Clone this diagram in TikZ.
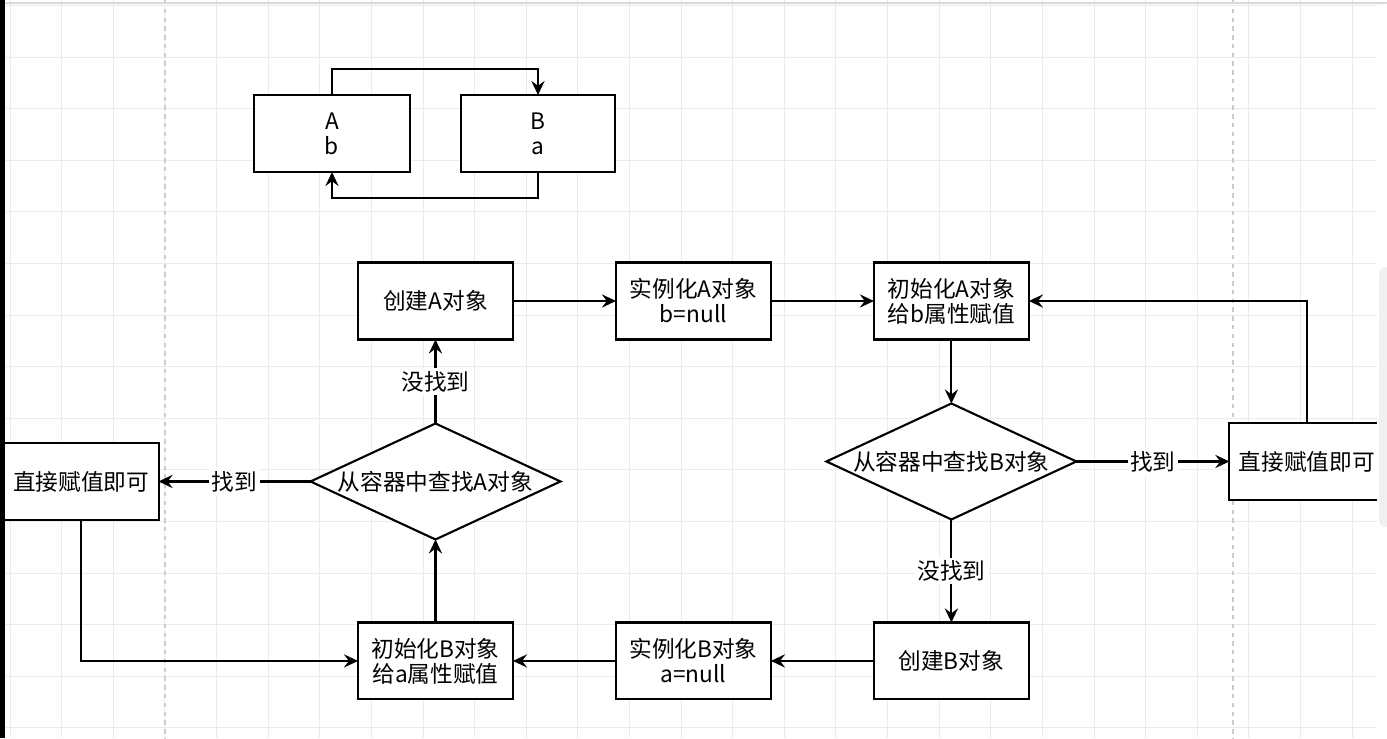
\documentclass[tikz,border=0pt]{standalone}
\usepackage{fontspec}
\newfontfamily\cjk{Noto Sans CJK SC}
\usepackage{tikz}
\usetikzlibrary{arrows.meta,positioning,shapes.geometric}

\begin{document}
\begin{tikzpicture}[
  x=0.02cm, y=-0.02cm, >={Stealth[length=8pt,width=7.5pt,inset=2.8pt]},
  line width=1.2pt,
  box/.style={draw, rectangle, align=center, minimum width=3.1cm, minimum height=1.54cm,
              inner sep=2pt, outer sep=0pt, fill=white, font={\cjk\fontsize{12.9pt}{14.2pt}\selectfont}},
  decide/.style={draw, diamond, minimum width=5cm, minimum height=2.32cm, inner sep=0pt,
                 outer sep=0pt, fill=white, font={\cjk\fontsize{12.9pt}{14.2pt}\selectfont}},
  lbl/.style={fill=white, inner sep=1.5pt, font={\cjk\fontsize{12.9pt}{14.2pt}\selectfont}},
  gridline/.style={draw=black!8, line width=0.5pt},
  pageline/.style={draw=black!20, line width=0.6pt, dash pattern=on 2.5pt off 2.5pt}
]
\useasboundingbox (0,0) rectangle (1387,738);
% background grid
\fill[white] (0,0) rectangle (1387,738);
\foreach \gx in {0,...,26} \draw[gridline] ({10+51.62*\gx},0) -- ++(0,738);
\foreach \gy in {0,...,14} \draw[gridline] (0,{5.4+51.6*\gy}) -- ++(1387,0);
\draw[pageline] (165,0) -- (165,738);
\draw[pageline] (1233,0) -- (1233,738);

% small sketch: A holds b, B holds a
\node[box, minimum width=3.12cm] (objA) at (332,133.5) {A\\b};
\node[box, minimum width=3.08cm] (objB) at (538,133.5) {B\\a};
\draw[->] (objA.north) -- ++(0,-26) -| (objB.north);
\draw[->] (objB.south) -- ++(0,26) -| (objA.south);

% main flow
\node[box] (createA) at (435.5,301) {创建A对象};
\node[box, right=2.06cm of createA] (instA) {实例化A对象\\b=null};
\node[box, right=2.06cm of instA] (initA) {初始化A对象\\给b属性赋值};
\node[decide, below=1.28cm of initA] (findB) {\makebox[0pt]{从容器中查找B对象}};
\node[box, right=3.06cm of findB] (directR) {直接赋值即可};
\node[box, below=2.06cm of findB] (createB) {创建B对象};
\node[box, left=2.06cm of createB] (instB) {实例化B对象\\a=null};
\node[box, left=2.06cm of instB] (initB) {初始化B对象\\给a属性赋值};
\node[decide, above=1.66cm of initB] (findA) {\makebox[0pt]{从容器中查找A对象}};
\node[box, left=3.04cm of findA] (directL) {直接赋值即可};

\draw[->] (createA) -- (instA);
\draw[->] (instA) -- (initA);
\draw[->] (initA) -- (findB);
\draw[->] (findB) -- node[lbl] {找到} (directR);
\draw[->] (directR.north) |- (initA.east);
\draw[->] (findB) -- node[lbl] {没找到} (createB);
\draw[->] (createB) -- (instB);
\draw[->] (instB) -- (initB);
\draw[->] (initB) -- (findA);
\draw[->] (findA) -- node[lbl] {没找到} (createA);
\draw[->] (findA) -- node[lbl] {找到} (directL);
\draw[->] (directL.south) |- (initB.west);

% window edges
\fill[white] (1377,0) rectangle (1387,738);
\fill[black!6, rounded corners=4pt] (1379,267) rectangle (1400,527);
\draw[black!15, line width=1pt] (5,3) -- (1387,3);
\fill[black] (0,0) rectangle (5,738);
\end{tikzpicture}
\end{document}
